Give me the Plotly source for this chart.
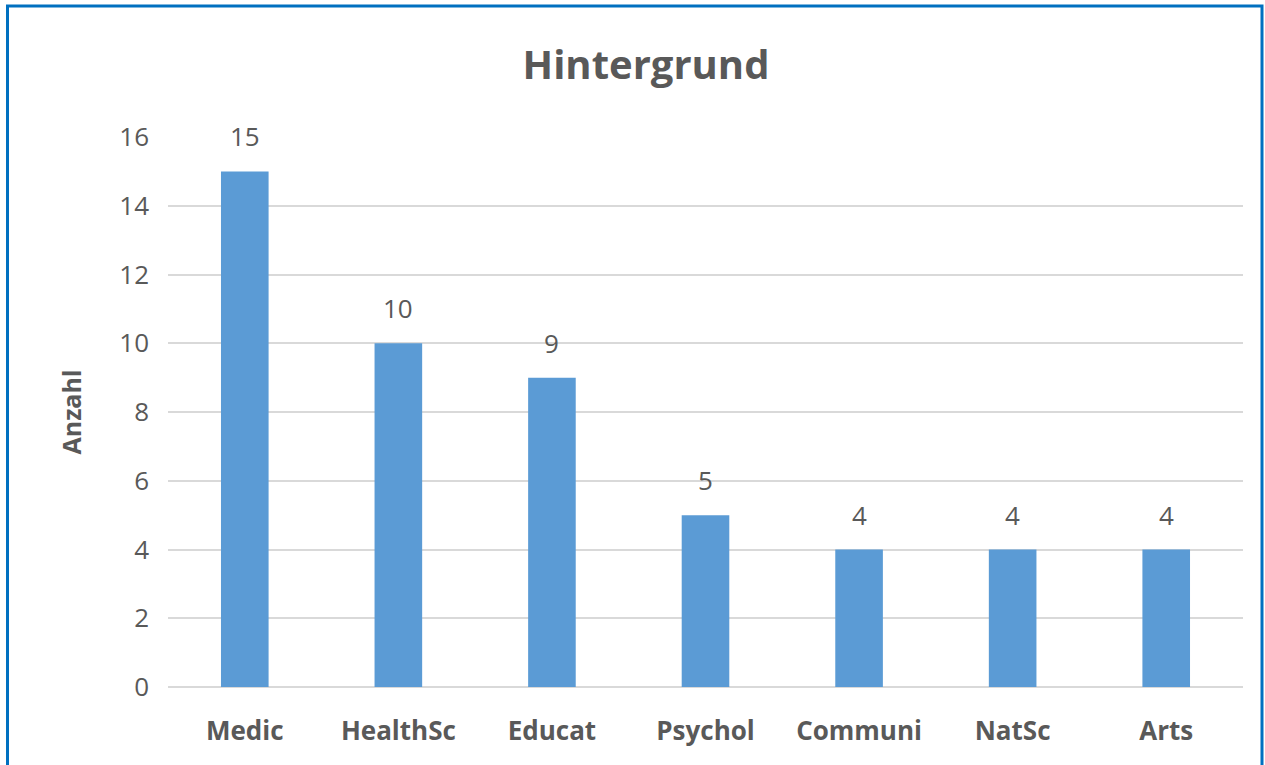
import plotly.graph_objects as go

categories = ["Medic", "HealthSc", "Educat", "Psychol", "Communi", "NatSc", "Arts"]
values = [15, 10, 9, 5, 4, 4, 4]
y_ticks = [0, 2, 4, 6, 8, 10, 12, 14, 16]

W, H = 1265, 765
L, R, T, B = 168, 22, 137, 78
pw, ph = W - L - R, H - T - B

def px_x(px):
    return (px - L) / pw

def px_y(py):
    return (H - B - py) / ph

font_fam = "Open Sans, Liberation Sans, sans-serif"
grey = "#595959"

fig = go.Figure(go.Bar(
    x=categories, y=values,
    marker=dict(color="#5B9BD5", line=dict(width=0)),
    hoverinfo="x+y",
))

annotations = [dict(x=c, y=v, xref="x", yref="y", text=str(v), showarrow=False,
                    yanchor="middle", yshift=35,
                    font=dict(family=font_fam, size=26, color=grey))
               for c, v in zip(categories, values)]

fig.update_layout(
    width=W, height=H,
    margin=dict(l=L, r=R, t=T, b=B),
    paper_bgcolor="white", plot_bgcolor="white",
    bargap=0.69,
    showlegend=False,
    annotations=annotations,
    title=dict(text="<b>Hintergrund</b>", x=646 / W, xref="container", xanchor="center",
               y=1 - 65 / H, yref="container", yanchor="middle",
               font=dict(family=font_fam, size=40, color=grey)),
    xaxis=dict(tickfont=dict(family=font_fam, size=26, color=grey),
               tickprefix="<b>", ticksuffix="</b>", showgrid=False, ticks="", showline=False,
               ticklabelstandoff=26),
    yaxis=dict(range=[0, 16], tickvals=y_ticks, showgrid=True, gridcolor="#D9D9D9", gridwidth=1.5,
               zeroline=True, zerolinecolor="#D9D9D9", zerolinewidth=1.5,
               tickfont=dict(family=font_fam, size=26, color=grey), ticks="", ticklen=0,
               ticklabelstandoff=18,
               title=dict(text="<b>Anzahl</b>", font=dict(family=font_fam, size=25, color=grey), standoff=30)),
    shapes=[dict(type="rect", xref="paper", yref="paper",
                 x0=px_x(7.5), x1=px_x(1262), y0=px_y(780), y1=px_y(6),
                 line=dict(color="#0070C0", width=3), fillcolor="rgba(0,0,0,0)", layer="above")],
)

fig.write_html("out.html", config={"displayModeBar": False},
               post_script="document.body.style.margin='0px';document.body.style.overflow='hidden';")
